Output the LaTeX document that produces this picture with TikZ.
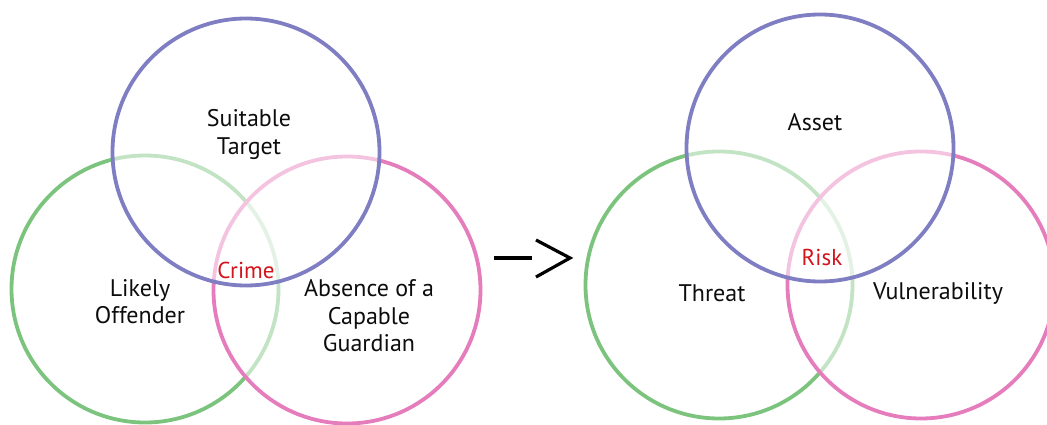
\documentclass[tikz,border=0pt]{standalone}
\usepackage{fontspec}
\setmainfont{PT Sans}
\usepackage{xcolor}
\usepackage{tikz}

\definecolor{ringpurple}{HTML}{7F7EC3}
\definecolor{ringgreen}{HTML}{7CC47E}
\definecolor{ringpink}{HTML}{E57CBC}
\definecolor{hitred}{HTML}{D3141B}

\tikzset{
  ring/.style={circle, draw=#1, line width=3.8pt, minimum size=267pt, inner sep=0pt},
  veil/.style={fill=white, fill opacity=0.55},
  word/.style={align=center, inner sep=0pt, font=\fontsize{24}{27.5}\selectfont, text=black!95},
  hit/.style={inner sep=0pt, anchor=base, font=\fontsize{23}{27}\selectfont, text=hitred}
}

\begin{document}
\begin{tikzpicture}[x=1pt, y=-1pt]
    \useasboundingbox (0,0) rectangle (1047,425);

    % left: crime triangle
    \node[ring=ringgreen] (offender) at (145,289) {};
    \node[ring=ringpink, veil] (guardian) at (347,290) {};
    \node[ring=ringpurple, veil] (target) at (246,152) {};

    \node[word] (targettext) at (249,134.5) {Suitable\\Target};
    \node[word] (offendertext) at (140,301.5) {Likely\\Offender};
    \node[word] (guardiantext) at (369,316) {Absence of a\\Capable\\Guardian};
    \node[hit] (crime) at (246,278) {Crime};

    % the arrow between the two
    \coordinate (dashstart) at (494,258);
    \coordinate (dashend) at (532,258);
    \coordinate (tiptop) at (536,240);
    \coordinate (tip) at (570,258);
    \coordinate (tipbot) at (536,277);
    \draw[line width=3.8pt] (dashstart) -- (dashend);
    \draw[line width=3.2pt, line join=miter] (tiptop) -- (tip) -- (tipbot);

    % right: risk triangle
    \node[ring=ringgreen] (threat) at (719,285) {};
    \node[ring=ringpink, veil] (vuln) at (921,285) {};
    \node[ring=ringpurple, veil] (asset) at (820,148) {};

    \node[word, anchor=base] (assettext) at (815,131) {Asset};
    \node[word, anchor=base] (threattext) at (712,301) {Threat};
    \node[word, anchor=base] (vulntext) at (938,299) {Vulnerability};
    \node[hit] (risk) at (822,265) {Risk};
\end{tikzpicture}
\end{document}
